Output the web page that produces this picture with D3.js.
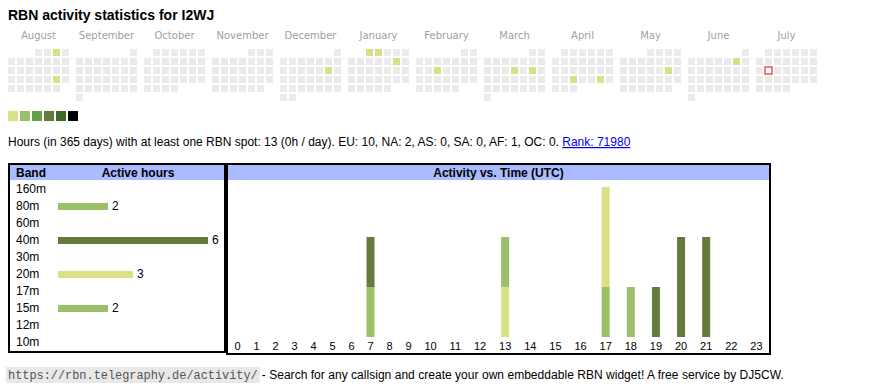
<!DOCTYPE html>
<html>
<head>
<meta charset="utf-8">
<script src="https://cdn.jsdelivr.net/npm/d3@7"></script>
<style>
  body { margin: 0; background: #fff; }
  svg { display: block; font-family: "Liberation Sans", Arial, sans-serif; }
</style>
</head>
<body>
<div id="chart"></div>
<script>
// ---- data ----
const callsign = "I2WJ";
const monthNames = ["January","February","March","April","May","June","July",
                    "August","September","October","November","December"];
// days with activity (hours per day)
const activeDays = ["2024-08-03","2024-08-24","2024-12-14","2025-01-01","2025-01-02",
                    "2025-01-11","2025-02-12","2025-03-13","2025-03-15","2025-04-23",
                    "2025-04-26","2025-05-17","2025-06-07"];
const activeDayHours = [1,1,1,1,1,1,1,1,1,1,1,1,1];
const today = "2025-07-15";
const levelColors = ["#d9e088", "#9cc06a", "#68a046", "#667a3b", "#3e6a29", "#000000"];

const bands = ["160m","80m","60m","40m","30m","20m","17m","15m","12m","10m"];
const bandHours = [0, 2, 0, 6, 0, 3, 0, 2, 0, 0];
const bandColors = {"160m": "#3e6a29", "80m": "#9cc06a", "60m": "#68a046", "40m": "#667a3b",
                    "30m": "#3e6a29", "20m": "#d9e088", "17m": "#68a046", "15m": "#9cc06a",
                    "12m": "#667a3b", "10m": "#d9e088"};

const hourLabels = ["0","1","2","3","4","5","6","7","8","9","10","11",
                    "12","13","14","15","16","17","18","19","20","21","22","23"];
// active hours per UTC hour, by band (stacked bottom -> top)
const hourly15m = [0,0,0,0,0,0,0,1,0,0,0,0,0,0,0,0,0,1,0,0,0,0,0,0];
const hourly20m = [0,0,0,0,0,0,0,0,0,0,0,0,0,1,0,0,0,2,0,0,0,0,0,0];
const hourly40m = [0,0,0,0,0,0,0,1,0,0,0,0,0,0,0,0,0,0,0,1,2,2,0,0];
const hourly80m = [0,0,0,0,0,0,0,0,0,0,0,0,0,1,0,0,0,0,1,0,0,0,0,0];
const stackKeys = ["15m","20m","40m","80m"];

const width = 870, height = 390;

let svg = d3.select("#chart").append("svg")
    .attr("width", width)
    .attr("height", height);

// title
svg.append("text")
    .attr("x", 8).attr("y", 20)
    .style("font-size", "14px")
    .style("font-weight", "bold")
    .text(`RBN activity statistics for ${callsign}`);

// ---- calendar ----
let activeMap = new Map(activeDays.map((d, i) => [d, activeDayHours[i]]));
let fmt = d3.timeFormat("%Y-%m-%d");
let months = d3.timeMonths(new Date(2024, 7, 1), new Date(2025, 7, 1));
let monthX = d3.scaleLinear().domain([0, 1]).range([8, 76]);
let cell = 7, pitch = 9, calTop = 49;
let level = d3.scaleThreshold().domain([2, 3, 4, 6, 10]).range(levelColors);

let cal = svg.append("g");
months.forEach(function(m, i) {
    let x0 = monthX(i);
    cal.append("text")
        .attr("x", x0 + (7 * pitch - 2) / 2)
        .attr("y", 39)
        .style("text-anchor", "middle")
        .style("font-family", "'DejaVu Sans', sans-serif")
        .style("font-size", "10px")
        .style("fill", "#a0a0a0")
        .text(monthNames[m.getMonth()]);

    let days = d3.timeDays(m, d3.timeMonth.offset(m, 1));
    let first = d3.timeMonday.floor(m);
    cal.selectAll(null).data(days).enter()
        .append("rect")
        .attr("x", d => x0 + ((d.getDay() + 6) % 7) * pitch)
        .attr("y", d => calTop + d3.timeMonday.count(first, d) * pitch)
        .attr("width", cell)
        .attr("height", cell)
        .attr("fill", function(d) {
            if (fmt(d) === today) return "#fff";
            let h = activeMap.get(fmt(d));
            return h ? level(h) : "#ebebeb";
        })
        .attr("stroke", d => fmt(d) === today ? "#e00000" : null)
        .attr("stroke-width", 1);
});

// level legend
svg.append("g").selectAll("rect").data(levelColors).enter()
    .append("rect")
    .attr("x", (d, i) => 8 + i * 12)
    .attr("y", 111)
    .attr("width", 10)
    .attr("height", 10)
    .attr("fill", d => d);

// summary line
let summary = svg.append("text")
    .attr("x", 8).attr("y", 146)
    .style("font-size", "12px");
summary.append("tspan")
    .text("Hours (in 365 days) with at least one RBN spot: 13 (0h / day). EU: 10, NA: 2, AS: 0, SA: 0, AF: 1, OC: 0. ");
summary.append("tspan")
    .style("fill", "#0000ee")
    .style("text-decoration", "underline")
    .text("Rank: 71980");

// ---- band table ----
let boxTop = 163;
let bandBox = {x: 8, w: 218, h: 190};
svg.append("rect")
    .attr("x", bandBox.x + 1).attr("y", boxTop + 1)
    .attr("width", bandBox.w - 2).attr("height", bandBox.h - 2)
    .attr("fill", "#fff").attr("stroke", "#000").attr("stroke-width", 2);
svg.append("rect")
    .attr("x", bandBox.x + 2).attr("y", boxTop + 2)
    .attr("width", bandBox.w - 4).attr("height", 15)
    .attr("fill", "#aabbff");
svg.append("text")
    .attr("x", 16).attr("y", 177)
    .style("font-size", "12px").style("font-weight", "bold")
    .text("Band");
svg.append("text")
    .attr("x", 138).attr("y", 177)
    .style("font-size", "12px").style("font-weight", "bold")
    .style("text-anchor", "middle")
    .text("Active hours");

let bandY = d3.scalePoint().domain(bands).range([193, 346]);
let hoursX = d3.scaleLinear().domain([0, 6]).range([58, 208]);

let bandRows = svg.append("g");
bandRows.selectAll("text.band").data(bands).enter()
    .append("text")
    .attr("class", "band")
    .attr("x", 16)
    .attr("y", d => bandY(d))
    .style("font-size", "12px")
    .text(d => d);

let bandData = bands.map((b, i) => ({band: b, hours: bandHours[i]})).filter(d => d.hours > 0);
bandRows.selectAll("rect").data(bandData).enter()
    .append("rect")
    .attr("x", hoursX(0))
    .attr("y", d => bandY(d.band) - 7)
    .attr("width", d => hoursX(d.hours) - hoursX(0))
    .attr("height", 7)
    .attr("fill", d => bandColors[d.band]);
bandRows.selectAll("text.val").data(bandData).enter()
    .append("text")
    .attr("class", "val")
    .attr("x", d => hoursX(d.hours) + 4)
    .attr("y", d => bandY(d.band))
    .style("font-size", "12px")
    .text(d => d.hours);

// ---- activity vs time ----
let actBox = {x: 226, w: 545, h: 192};
svg.append("rect")
    .attr("x", actBox.x + 1).attr("y", boxTop + 1)
    .attr("width", actBox.w - 2).attr("height", actBox.h - 2)
    .attr("fill", "none").attr("stroke", "#000").attr("stroke-width", 2);
svg.append("rect")
    .attr("x", actBox.x + 2).attr("y", boxTop + 2)
    .attr("width", actBox.w - 4).attr("height", 15)
    .attr("fill", "#aabbff");
svg.append("text")
    .attr("x", actBox.x + actBox.w / 2).attr("y", 177)
    .style("font-size", "12px").style("font-weight", "bold")
    .style("text-anchor", "middle")
    .text("Activity vs. Time (UTC)");

// hour labels laid out like auto-sized table cells
let axisG = svg.append("g");
let hourText = axisG.selectAll("text").data(hourLabels).enter()
    .append("text")
    .attr("y", 350)
    .style("font-size", "11px")
    .style("text-anchor", "middle")
    .text(d => d);
let widths = hourText.nodes().map(n => n.getComputedTextLength());
let innerL = actBox.x + 2, innerW = actBox.w - 4;
let pad = (innerW - d3.sum(widths)) / widths.length;
let centers = [], acc = innerL;
widths.forEach(w => { centers.push(acc + (w + pad) / 2); acc += w + pad; });
let hourX = d3.scaleOrdinal().domain(hourLabels).range(centers);
hourText.attr("x", d => hourX(d));

let hourRows = hourLabels.map((h, i) => ({
    hour: h, "15m": hourly15m[i], "20m": hourly20m[i], "40m": hourly40m[i], "80m": hourly80m[i]
}));
let series = d3.stack().keys(stackKeys)(hourRows);
let yAct = d3.scaleLinear().domain([0, 3]).range([337, 187]);

svg.append("g").selectAll("g").data(series).enter()
    .append("g")
    .attr("fill", d => bandColors[d.key])
    .selectAll("rect")
    .data(d => d.filter(p => p[1] > p[0]))
    .enter()
    .append("rect")
    .attr("x", d => hourX(d.data.hour) - 4)
    .attr("y", d => yAct(d[1]))
    .attr("width", 8)
    .attr("height", d => yAct(d[0]) - yAct(d[1]));

// ---- footer ----
let footUrl = "https://rbn.telegraphy.de/activity/";
let mono = svg.append("text")
    .attr("x", 8).attr("y", 379)
    .style("font-family", "'Liberation Mono', 'DejaVu Sans Mono', monospace")
    .style("font-size", "11.9px")
    .style("fill", "#555")
    .text(footUrl);
let mw = mono.node().getComputedTextLength();
svg.insert("rect", () => mono.node())
    .attr("x", 6).attr("y", 367)
    .attr("width", mw + 4).attr("height", 16)
    .attr("fill", "#e8e8e8");
svg.append("text")
    .attr("x", 8 + mw + 4).attr("y", 379)
    .style("font-size", "12px")
    .attr("textLength", 522)
    .text("- Search for any callsign and create your own embeddable RBN widget! A free service by DJ5CW.");
</script>
</body>
</html>
